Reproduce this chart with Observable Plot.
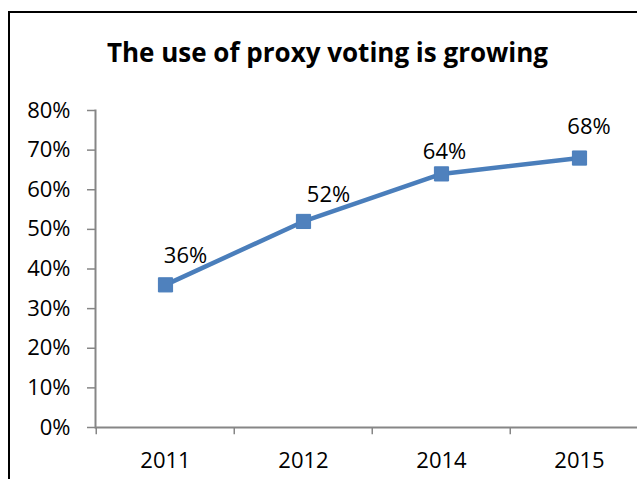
<!DOCTYPE html>
<html>
<head>
<meta charset="utf-8">
<script src="https://cdn.jsdelivr.net/npm/d3@7"></script>
<script src="https://cdn.jsdelivr.net/npm/@observablehq/plot@0.6"></script>
<style>
  html, body { margin: 0; padding: 0; background: #fff; overflow: hidden; }
  #wrap { position: relative; width: 637px; height: 479px; overflow: hidden; background: #fff; }
  #border { position: absolute; left: 8px; top: 11px; width: 700px; height: 600px; border: 2px solid #000; box-sizing: border-box; }
  #title { position: absolute; left: 0; top: 39px; width: 655px; text-align: center; font-family: "Open Sans", sans-serif; font-weight: bold; font-size: 26px; line-height: 26px; color: #000; white-space: nowrap; }
  #chart { position: absolute; left: 0; top: 0; }
  #chart svg { overflow: hidden; }
</style>
</head>
<body>
<div id="wrap">
  <div id="border"></div>
  <div id="chart"></div>
  <div id="title">The use of proxy voting is growing</div>
</div>
<script>
const years = ["2011", "2012", "2014", "2015"];
const shares = [0.36, 0.52, 0.64, 0.68];
const labels = ["36%", "52%", "64%", "68%"];
const yTicks = [0, 0.1, 0.2, 0.3, 0.4, 0.5, 0.6, 0.7, 0.8];

const data = years.map((year, i) => ({year, share: shares[i], label: labels[i]}));

const W = 637, H = 479;
const plotLeft = 95, plotRight = 649, plotTop = 110, plotBottom = 427;
const bw = (plotRight - plotLeft) / years.length;
const blue = "#4A7EBB";
const gray = "#868686";
const font = '"Open Sans", sans-serif';

// per-label placement (Excel-style offsets from each point)
const labelDx = [20, 25, 3, 9.5];
const labelDy = [-28.5, -26, -21.5, -31];

const plot = Plot.plot({
  width: W,
  height: H,
  marginLeft: plotLeft,
  marginRight: W - plotRight,
  marginTop: plotTop,
  marginBottom: H - plotBottom,
  style: {fontFamily: font, fontSize: "22px", background: "transparent"},
  x: {type: "band", domain: years, range: [plotLeft, plotRight], padding: 0},
  y: {domain: [0, 0.8], range: [plotBottom, plotTop]},
  marks: [
    Plot.axisY({
      ticks: yTicks,
      tickFormat: d3.format(".0%"),
      tickSize: 8,
      tickPadding: 17,
      stroke: gray,
      strokeWidth: 1.5,
      fill: "#000",
      fontSize: 22,
      label: null
    }),
    Plot.axisX({
      tickSize: 0,
      tickPadding: 25,
      fill: "#000",
      fontSize: 22,
      label: null
    }),
    Plot.ruleX(years, {x: d => d, y1: 0, y2: -0.018, dx: -bw / 2, stroke: gray, strokeWidth: 1.5}),
    Plot.ruleY([0], {stroke: gray, strokeWidth: 2}),
    Plot.frame({anchor: "left", stroke: gray, strokeWidth: 2}),
    Plot.line(data, {x: "year", y: "share", stroke: blue, strokeWidth: 4.5, strokeLinejoin: "round", strokeLinecap: "round"}),
    Plot.dot(data, {x: "year", y: "share", symbol: "square", r: 8, fill: "#4F81BD", stroke: blue, strokeWidth: 1}),
    ...data.map((d, i) => Plot.text([d], {
      x: "year", y: "share", text: "label",
      dx: labelDx[i], dy: labelDy[i],
      textAnchor: "middle", fill: "#000", fontSize: 22
    }))
  ]
});
document.getElementById("chart").appendChild(plot);
</script>
</body>
</html>
